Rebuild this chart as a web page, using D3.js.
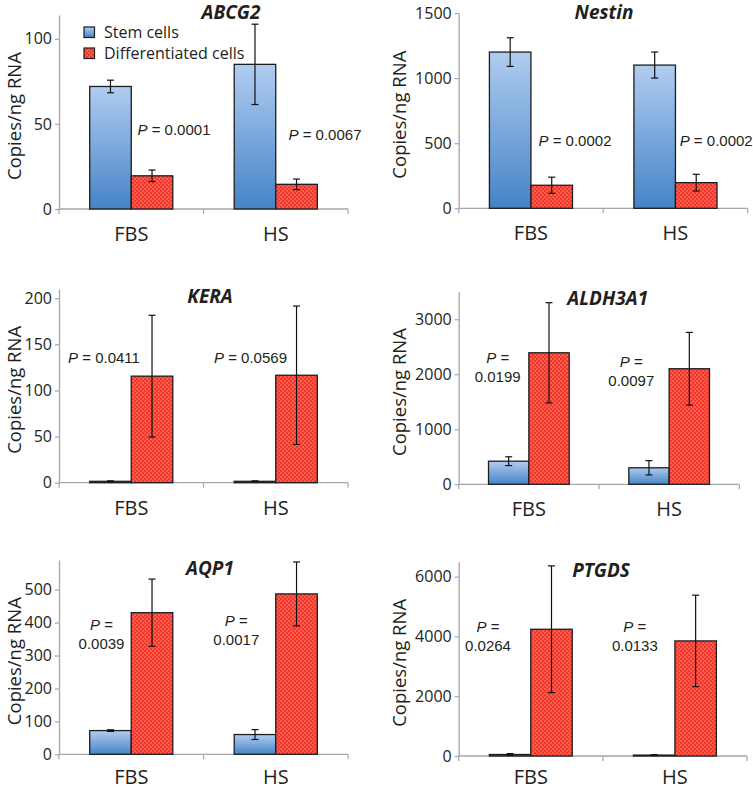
<!DOCTYPE html>
<html>
<head>
<meta charset="utf-8">
<script src="https://cdn.jsdelivr.net/npm/d3@7"></script>
<style>
  html, body { margin: 0; padding: 0; background: #fff; }
  svg { display: block; }
</style>
</head>
<body>
<svg id="chart" width="753" height="790"></svg>
<script>
// ---------------- DATA ----------------
const genes = ["ABCG2", "Nestin", "KERA", "ALDH3A1", "AQP1", "PTGDS"];
const categories = ["FBS", "HS"];
const seriesNames = ["Stem cells", "Differentiated cells"];

// mean copies/ng RNA, [FBS, HS]
const stemMeans = [[72, 85], [1200, 1100], [1.5, 1.5], [420, 300], [72, 60], [50, 30]];
const stemErrors = [[3.7, 23.6], [110, 100], [0.5, 0.5], [80, 130], [2.5, 15], [30, 15]];
const diffMeans = [[19.5, 14.5], [177, 197], [115.5, 116.5], [2390, 2100], [430, 487], [4240, 3850]];
const diffErrors = [[3.4, 3.1], [62, 64], [66, 75], [910, 660], [102, 97], [2120, 1530]];

const pValues = [
  ["0.0001", "0.0067"],
  ["0.0002", "0.0002"],
  ["0.0411", "0.0569"],
  ["0.0199", "0.0097"],
  ["0.0039", "0.0017"],
  ["0.0264", "0.0133"]
];

const yTicks = [
  [0, 50, 100],
  [0, 500, 1000, 1500],
  [0, 50, 100, 150, 200],
  [0, 1000, 2000, 3000],
  [0, 100, 200, 300, 400, 500],
  [0, 2000, 4000, 6000]
];
const yMax = [114, 1500, 210, 3500, 590, 6500];

// ---------------- LAYOUT ----------------
const layout = [
  { x0: 59,    x1: 348,   y0: 209,   y1: 15,    title: [231, 19], labelOff: 38.5,
    p: [{ dx: 115, y: 135, two: false }, { dx: 121.5, y: 140, two: false }] },
  { x0: 458.7, x1: 747.7, y0: 208.3, y1: 13,    title: [604, 19], labelOff: 52.5,
    p: [{ dx: 116.3, y: 146, two: false }, { dx: 113, y: 146, two: false }] },
  { x0: 59,    x1: 348,   y0: 482.7, y1: 289,   title: [210, 303], labelOff: 38.5,
    p: [{ dx: 45, y: 363, two: false }, { dx: 47, y: 363, two: false }] },
  { x0: 458.7, x1: 739.3, y0: 484.3, y1: 291.7, title: [607.7, 305], labelOff: 52.5,
    p: [{ dx: 39, y: 363, two: true }, { dx: 32.3, y: 367, two: true }] },
  { x0: 59,    x1: 348,   y0: 754.3, y1: 560,   title: [210, 575], labelOff: 38.5,
    p: [{ dx: 42.5, y: 630, two: true }, { dx: 32.8, y: 626, two: true }] },
  { x0: 458.7, x1: 747,   y0: 756,   y1: 561.7, title: [601, 577], labelOff: 52.5,
    p: [{ dx: 29.3, y: 631.7, two: true }, { dx: 32, y: 631.7, two: true }] }
];

const axisColor = "#a6a6a6";
const textColor = "#231f20";
const sansFont = "'Open Sans', 'DejaVu Sans', sans-serif";
const arialFont = "'Liberation Sans', Arial, sans-serif";

const svg = d3.select("#chart");
const defs = svg.append("defs");

// Stem gradient
const grad = defs.append("linearGradient")
  .attr("id", "stemGrad").attr("x1", 0).attr("y1", 0).attr("x2", 0).attr("y2", 1);
grad.append("stop").attr("offset", "0%").attr("stop-color", "#b0cdf0");
grad.append("stop").attr("offset", "100%").attr("stop-color", "#4583c6");

// Red dotted pattern
const pat = defs.append("pattern")
  .attr("id", "redDots").attr("patternUnits", "userSpaceOnUse")
  .attr("width", 4).attr("height", 4);
pat.append("rect").attr("width", 4).attr("height", 4).attr("fill", "#f3382b");
pat.append("rect").attr("x", 0.5).attr("y", 0.5).attr("width", 1.1).attr("height", 1.1).attr("fill", "#fcb4a8");
pat.append("rect").attr("x", 2.5).attr("y", 2.5).attr("width", 1.1).attr("height", 1.1).attr("fill", "#fcb4a8");

const fills = ["url(#stemGrad)", "url(#redDots)"];

genes.forEach((gene, gi) => {
  const L = layout[gi];
  const g = svg.append("g");

  const x = d3.scaleBand().domain(categories).range([L.x0, L.x1])
    .paddingInner(0.425).paddingOuter(0.2125);
  const xs = d3.scaleBand().domain(seriesNames).range([0, x.bandwidth()]);
  const y = d3.scaleLinear().domain([0, yMax[gi]]).range([L.y0, L.y1]);

  // Y axis
  const yAxis = d3.axisLeft(y).tickValues(yTicks[gi]).tickFormat(d3.format("d"))
    .tickSize(4).tickPadding(3).tickSizeOuter(0);
  const ya = g.append("g").attr("transform", `translate(${L.x0},0)`).call(yAxis);
  ya.select(".domain").attr("stroke", axisColor).attr("stroke-width", 1.3);
  ya.selectAll(".tick line").attr("stroke", axisColor).attr("stroke-width", 1.2);
  ya.selectAll(".tick text").attr("fill", textColor)
    .style("font-family", sansFont).style("font-size", "16px");

  // X axis line + boundary ticks
  const step = x.step();
  const xStart = x.range()[0];
  g.append("line").attr("x1", L.x0).attr("x2", L.x1).attr("y1", L.y0).attr("y2", L.y0)
    .attr("stroke", axisColor).attr("stroke-width", 1.3);
  const bounds = d3.range(categories.length + 1).map(i => xStart + i * step);
  g.selectAll(".xtick").data(bounds).enter().append("line")
    .attr("x1", d => d).attr("x2", d => d).attr("y1", L.y0).attr("y2", L.y0 + 5)
    .attr("stroke", axisColor).attr("stroke-width", 1.2);

  // category labels
  g.selectAll(".cat").data(categories).enter().append("text")
    .attr("x", d => x(d) + x.bandwidth() / 2).attr("y", Math.min(L.y0 + 32, 784))
    .attr("text-anchor", "middle").attr("fill", textColor)
    .style("font-family", sansFont).style("font-size", "20px").text(d => d);

  // Bars
  const rows = [];
  categories.forEach((c, ci) => {
    rows.push({ c, s: seriesNames[0], si: 0, v: stemMeans[gi][ci], e: stemErrors[gi][ci] });
    rows.push({ c, s: seriesNames[1], si: 1, v: diffMeans[gi][ci], e: diffErrors[gi][ci] });
  });
  g.selectAll(".bar").data(rows).enter().append("rect")
    .attr("x", d => x(d.c) + xs(d.s))
    .attr("y", d => y(d.v))
    .attr("width", xs.bandwidth())
    .attr("height", d => y(0) - y(d.v))
    .attr("fill", d => fills[d.si])
    .attr("stroke", "#1d1d1f").attr("stroke-width", 1.3);

  // Error bars
  const eb = g.selectAll(".err").data(rows).enter().append("g");
  const cx = d => x(d.c) + xs(d.s) + xs.bandwidth() / 2;
  eb.append("line").attr("x1", cx).attr("x2", cx)
    .attr("y1", d => y(d.v + d.e)).attr("y2", d => y(Math.max(0, d.v - d.e)))
    .attr("stroke", "#111").attr("stroke-width", 1.2);
  [1, -1].forEach(sgn => {
    eb.append("line")
      .attr("x1", d => cx(d) - 3.5).attr("x2", d => cx(d) + 3.5)
      .attr("y1", d => y(Math.max(0, d.v + sgn * d.e))).attr("y2", d => y(Math.max(0, d.v + sgn * d.e)))
      .attr("stroke", "#111").attr("stroke-width", 1.2);
  });

  // Title
  g.append("text").attr("x", L.title[0]).attr("y", L.title[1])
    .attr("text-anchor", "middle").attr("fill", textColor)
    .style("font-family", sansFont).style("font-weight", "bold").style("font-style", "italic")
    .style("font-size", "19px").text(gene);

  // Y label
  const yMid = (L.y0 + L.y1) / 2 + 4;
  g.append("text")
    .attr("transform", `translate(${L.x0 - L.labelOff},${yMid}) rotate(-90)`)
    .attr("text-anchor", "middle").attr("fill", textColor)
    .style("font-family", sansFont).style("font-size", "18.5px").text("Copies/ng RNA");

  // P values
  categories.forEach((c, ci) => {
    const P = L.p[ci];
    const px = xStart + ci * step + P.dx;
    const t = g.append("text").attr("x", px).attr("y", P.y).attr("text-anchor", "middle")
      .attr("fill", textColor).style("font-family", arialFont).style("font-size", "15px");
    t.append("tspan").style("font-style", "italic").text("P");
    if (!P.two) {
      t.append("tspan").text(" = " + pValues[gi][ci]);
    } else {
      t.append("tspan").text(" =");
      g.append("text").attr("x", px).attr("y", P.y + 19).attr("text-anchor", "middle")
        .attr("fill", textColor).style("font-family", arialFont).style("font-size", "15px")
        .text(pValues[gi][ci]);
    }
  });

  // Legend (first panel only)
  if (gi === 0) {
    const lg = g.append("g");
    seriesNames.forEach((s, si) => {
      lg.append("rect").attr("x", 84).attr("y", 27 + si * 21).attr("width", 10.5).attr("height", 10.5)
        .attr("fill", fills[si]).attr("stroke", "#1d1d1f").attr("stroke-width", 1.2);
      lg.append("text").attr("x", 104).attr("y", 37.5 + si * 21).attr("fill", textColor)
        .style("font-family", sansFont).style("font-size", "16px").text(s);
    });
  }
});
</script>
</body>
</html>
